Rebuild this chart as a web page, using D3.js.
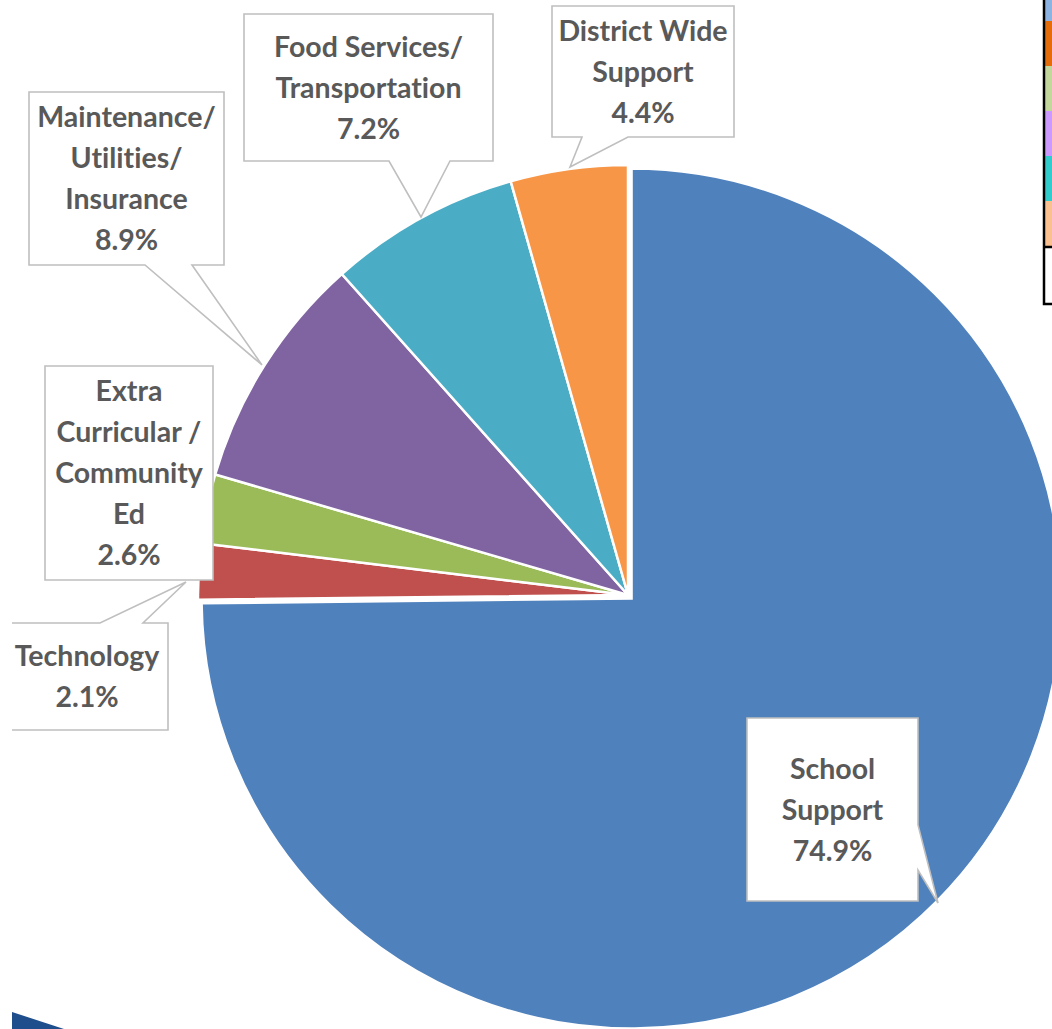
<!DOCTYPE html>
<html>
<head>
<meta charset="utf-8">
<script src="https://cdn.jsdelivr.net/npm/d3@7"></script>
<style>
  body { margin: 0; background: #fff; }
  svg { display: block; }
  .callout text { font-variant-ligatures: none; font-feature-settings: "liga" 0, "clig" 0; }
</style>
</head>
<body>
<div class="chart"></div>
<script>
// data
const categories = ["School Support", "Technology", "Extra Curricular / Community Ed",
    "Maintenance/ Utilities/ Insurance", "Food Services/ Transportation", "District Wide Support"];
const shares = [74.9, 2.1, 2.6, 8.9, 7.2, 4.4];
const labelLines = [
    ["School", "Support"],
    ["Technology"],
    ["Extra", "Curricular /", "Community", "Ed"],
    ["Maintenance/", "Utilities/", "Insurance"],
    ["Food Services/", "Transportation"],
    ["District Wide", "Support"]
];
const sliceColors = ["#4f81bd", "#c0504d", "#9bbb59", "#8064a2", "#4bacc6", "#f79646"];
// fragment of another legend at the right edge
const legendColors = ["#8db3e2", "#e46c0a", "#c3d69b", "#cc99ff", "#33cccc", "#fac090"];

// callout boxes: box [x0,y0,x1,y1], side of the pointer, pointer base, tip
const callouts = [
    {box: [747, 718, 918, 901], side: "right", base: [825, 870], tip: [938, 903]},
    {box: [4, 623, 168, 730], side: "top", base: [100, 143], tip: [186, 582]},
    {box: [45, 366, 213, 580], side: null},
    {box: [29, 92, 224, 265], side: "bottom", base: [145, 192], tip: [262, 365]},
    {box: [244, 14, 493, 161], side: "bottom", base: [389, 450], tip: [421, 217]},
    {box: [552, 6, 734, 137], side: "bottom", base: [582, 628], tip: [570, 167]}
];

const width = 1052, height = 1029;
const cx = 628, cy = 595, radius = 430;
const lineGap = 41;

const svg = d3.select(".chart")
    .append("svg")
        .attr("width", width)
        .attr("height", height)
        .attr("viewBox", `0 0 ${width} ${height}`);

svg.append("defs").append("clipPath")
    .attr("id", "clip")
    .append("rect")
        .attr("x", 12).attr("y", 0)
        .attr("width", width - 12).attr("height", height);

const root = svg.append("g").attr("clip-path", "url(#clip)");

const pie = d3.pie().sort(null).value(d => d)(shares);
const arc = d3.arc().innerRadius(0).outerRadius(radius);

const pieG = root.append("g").attr("transform", `translate(${cx},${cy})`);
pieG.selectAll("path")
    .data(pie)
    .join("path")
        .attr("d", arc)
        .attr("fill", (d, i) => sliceColors[i])
        .attr("stroke", "#fff")
        .attr("stroke-width", 2.5)
        .attr("transform", (d, i) => {
            if (i !== 0) return null;
            // first slice is pulled out a little
            const a = (d.startAngle + d.endAngle) / 2;
            return `translate(${5 * Math.sin(a)},${-5 * Math.cos(a)})`;
        });

const calloutPath = c => {
    const [x0, y0, x1, y1] = c.box;
    const p = d3.path();
    p.moveTo(x0, y0);
    if (c.side === "top") {
        p.lineTo(c.base[0], y0); p.lineTo(c.tip[0], c.tip[1]); p.lineTo(c.base[1], y0);
    }
    p.lineTo(x1, y0);
    if (c.side === "right") {
        p.lineTo(x1, c.base[0]); p.lineTo(c.tip[0], c.tip[1]); p.lineTo(x1, c.base[1]);
    }
    p.lineTo(x1, y1);
    if (c.side === "bottom") {
        p.lineTo(c.base[1], y1); p.lineTo(c.tip[0], c.tip[1]); p.lineTo(c.base[0], y1);
    }
    p.lineTo(x0, y1);
    p.closePath();
    return p.toString();
};

const labels = root.selectAll(".callout")
    .data(callouts)
    .join("g")
        .attr("class", "callout");

labels.append("path")
    .attr("d", calloutPath)
    .attr("fill", "#fff")
    .attr("stroke", "#bfbfbf")
    .attr("stroke-width", 1.6);

labels.append("text")
    .attr("text-anchor", "middle")
    .attr("font-family", "Lato, 'Open Sans', sans-serif")
    .attr("font-weight", 700)
    .attr("font-size", 28.5)
    .attr("fill", "#595959")
    .each(function (c, i) {
        const lines = labelLines[i].concat([shares[i].toFixed(1) + "%"]);
        const [x0, y0, x1, y1] = c.box;
        const mid = (x0 + x1) / 2 + (i === 1 ? 1 : 0);
        const firstBase = (y0 + y1) / 2 - (lines.length - 1) * lineGap / 2 + 10;
        d3.select(this).selectAll("tspan")
            .data(lines)
            .join("tspan")
                .attr("x", mid)
                .attr("y", (d, k) => firstBase + k * lineGap)
                .text(d => d);
    });

// legend fragment at the top right
const legendY = d3.scaleLinear().domain([0, 1]).range([-24, 21]);
root.selectAll(".swatch")
    .data(legendColors)
    .join("rect")
        .attr("class", "swatch")
        .attr("x", 1045)
        .attr("y", (d, i) => legendY(i))
        .attr("width", 10)
        .attr("height", 45)
        .attr("fill", d => d);
root.append("path")
    .attr("d", "M1044,0V304H1054M1044,247H1054")
    .attr("fill", "none")
    .attr("stroke", "#000")
    .attr("stroke-width", 2.5);

// corner of a picture at the bottom left
root.append("path")
    .attr("d", "M12,1012L64,1029L12,1029Z")
    .attr("fill", "#1f4e8c");
</script>
</body>
</html>
